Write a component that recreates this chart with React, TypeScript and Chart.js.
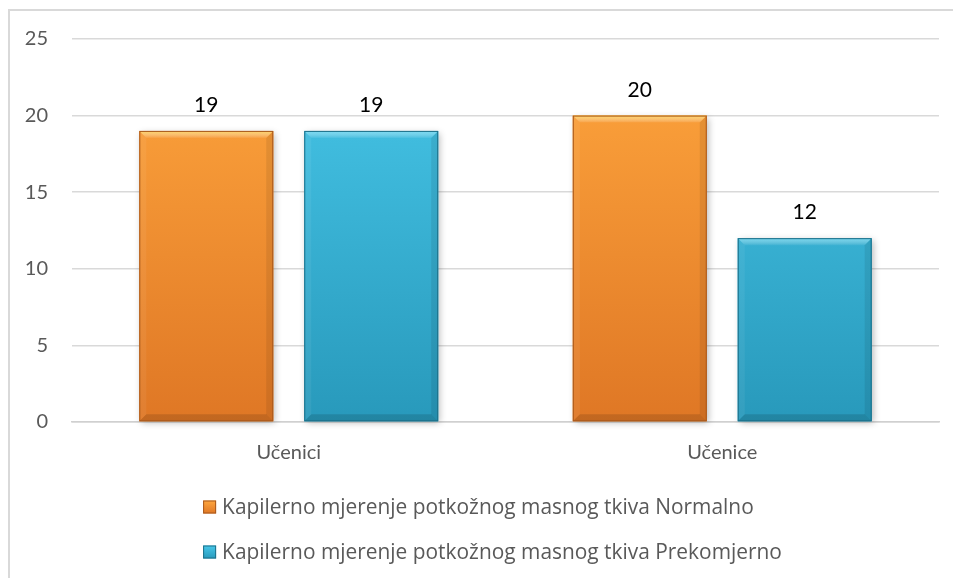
import React, { useEffect, useRef } from "react";
import { Chart, registerables } from "chart.js";

Chart.register(...registerables);

const categories = ["Učenici", "Učenice"];
const normalnoValues = [19, 20];
const prekomjernoValues = [19, 12];
const seriesLabels = [
  "Kapilerno mjerenje potkožnog masnog tkiva Normalno",
  "Kapilerno mjerenje potkožnog masnog tkiva Prekomjerno",
];
const yMax = 25;
const yStep = 5;

const FONT = "Lato, 'Open Sans', sans-serif";
const LEGEND_FONT = "'Open Sans', Lato, sans-serif";

const palette = [
  { top: "#ffa73e", bottom: "#df7725", light: "rgba(255,228,110,0.8)", dark: "#a8581c", solid: "#f7922c" },
  { top: "#48c8ea", bottom: "#2899bb", light: "rgba(150,235,255,0.65)", dark: "#1d6f88", solid: "#35b6da" },
];

function gradientFor(idx: number) {
  return (ctx: any) => {
    const chart = ctx.chart;
    const area = chart.chartArea;
    const p = palette[idx];
    if (!area) return p.solid;
    const g = chart.ctx.createLinearGradient(0, area.top, 0, area.bottom);
    g.addColorStop(0, p.top);
    g.addColorStop(1, p.bottom);
    return g;
  };
}

const bevelPlugin = {
  id: "bevel",
  beforeDatasetsDraw(chart: any) {
    const ctx = chart.ctx;
    chart.data.datasets.forEach((ds: any, di: number) => {
      const meta = chart.getDatasetMeta(di);
      meta.data.forEach((el: any) => {
        const { x, y, base, width } = el.getProps(["x", "y", "base", "width"], true);
        ctx.save();
        ctx.shadowColor = "rgba(0,0,0,0.28)";
        ctx.shadowBlur = 7;
        ctx.shadowOffsetX = 2;
        ctx.shadowOffsetY = 2;
        ctx.fillStyle = palette[di].solid;
        ctx.fillRect(x - width / 2, y, width, base - y);
        ctx.restore();
      });
    });
  },
  afterDatasetsDraw(chart: any) {
    const ctx = chart.ctx;
    chart.data.datasets.forEach((ds: any, di: number) => {
      const meta = chart.getDatasetMeta(di);
      const p = palette[di];
      meta.data.forEach((el: any, i: number) => {
        const { x, y, base, width } = el.getProps(["x", "y", "base", "width"], true);
        const l = x - width / 2;
        const r = x + width / 2;
        const t = y;
        const b = base;
        const bv = 7;
        ctx.save();
        const tg = ctx.createLinearGradient(0, t, 0, t + bv);
        tg.addColorStop(0, p.light);
        tg.addColorStop(1, "rgba(255,255,255,0.05)");
        ctx.fillStyle = tg;
        ctx.beginPath();
        ctx.moveTo(l, t);
        ctx.lineTo(r, t);
        ctx.lineTo(r - bv, t + bv);
        ctx.lineTo(l + bv, t + bv);
        ctx.closePath();
        ctx.fill();
        ctx.fillStyle = "rgba(0,0,0,0.13)";
        ctx.beginPath();
        ctx.moveTo(l, b);
        ctx.lineTo(r, b);
        ctx.lineTo(r - bv, b - bv);
        ctx.lineTo(l + bv, b - bv);
        ctx.closePath();
        ctx.fill();
        ctx.fillStyle = "rgba(0,0,0,0.08)";
        ctx.beginPath();
        ctx.moveTo(r, t);
        ctx.lineTo(r, b);
        ctx.lineTo(r - bv, b - bv);
        ctx.lineTo(r - bv, t + bv);
        ctx.closePath();
        ctx.fill();
        ctx.fillStyle = "rgba(255,255,255,0.06)";
        ctx.beginPath();
        ctx.moveTo(l, t);
        ctx.lineTo(l, b);
        ctx.lineTo(l + bv, b - bv);
        ctx.lineTo(l + bv, t + bv);
        ctx.closePath();
        ctx.fill();
        ctx.strokeStyle = p.dark;
        ctx.lineWidth = 1;
        ctx.strokeRect(l + 0.5, t + 0.5, width - 1, b - t - 1);
        ctx.fillStyle = "#000000";
        ctx.font = `21px ${FONT}`;
        ctx.textAlign = "center";
        ctx.textBaseline = "alphabetic";
        ctx.fillText(String(ds.data[i]), x, t - 19);
        ctx.restore();
      });
    });
  },
  afterDraw(chart: any) {
    const ctx = chart.ctx;
    const area = chart.chartArea;
    ctx.save();
    ctx.font = `20.9px ${LEGEND_FONT}`;
    const box = 13;
    const gap = 6;
    const widths = chart.data.datasets.map((d: any) => ctx.measureText(d.label).width);
    const maxW = Math.max(...widths) + box + gap;
    const left = chart.width / 2 - maxW / 2;
    const firstRow = area.bottom + 85;
    const rowGap = 45;
    chart.data.datasets.forEach((d: any, di: number) => {
      const cy = firstRow + di * rowGap;
      const p = palette[di];
      const g = ctx.createLinearGradient(0, cy - box / 2, 0, cy + box / 2);
      g.addColorStop(0, p.top);
      g.addColorStop(1, p.bottom);
      ctx.fillStyle = g;
      ctx.fillRect(left, cy - box / 2, box, box);
      ctx.strokeStyle = p.dark;
      ctx.lineWidth = 1;
      ctx.strokeRect(left + 0.5, cy - box / 2 + 0.5, box - 1, box - 1);
      ctx.fillStyle = "#595959";
      ctx.textAlign = "left";
      ctx.textBaseline = "middle";
      ctx.fillText(d.label, left + box + gap, cy + 1);
    });
    ctx.restore();
  },
};

export default function App() {
  const ref = useRef<HTMLCanvasElement | null>(null);

  useEffect(() => {
    if (!ref.current) return;
    const chart = new Chart(ref.current, {
      type: "bar",
      data: {
        labels: categories,
        datasets: [
          {
            label: seriesLabels[0],
            data: normalnoValues,
            backgroundColor: gradientFor(0),
            borderWidth: 0,
            categoryPercentage: 0.761,
            barPercentage: 0.812,
          },
          {
            label: seriesLabels[1],
            data: prekomjernoValues,
            backgroundColor: gradientFor(1),
            borderWidth: 0,
            categoryPercentage: 0.761,
            barPercentage: 0.812,
          },
        ],
      },
      options: {
        animation: false,
        responsive: false,
        maintainAspectRatio: false,
        layout: { padding: { top: 39, right: 46, bottom: 96, left: 0 } },
        plugins: {
          legend: { display: false },
          tooltip: { enabled: false },
        },
        scales: {
          x: {
            grid: { display: false, drawTicks: false },
            border: { display: true, color: "#d0d0d0", width: 1.5 },
            ticks: { color: "#595959", font: { family: FONT, size: 20 }, padding: 19 },
            afterFit(scale: any) {
              scale.height = 60;
            },
          },
          y: {
            min: 0,
            max: yMax,
            ticks: { stepSize: yStep, color: "#595959", font: { family: FONT, size: 20 }, padding: 24 },
            grid: { color: "#d9d9d9", lineWidth: 1.5, drawTicks: false },
            border: { display: false },
            afterFit(scale: any) {
              scale.width = 72;
            },
          },
        },
      },
      plugins: [bevelPlugin],
    });
    return () => chart.destroy();
  }, []);

  return (
    <div style={{ position: "fixed", left: 0, top: 0, width: 953, height: 578, overflow: "hidden", background: "#fff" }}>
      <div
        style={{
          position: "absolute",
          left: 8,
          top: 9,
          width: 1000,
          height: 1000,
          border: "2px solid #d9d9d9",
          boxSizing: "border-box",
        }}
      />
      <canvas ref={ref} width={985} height={578} style={{ position: "absolute", left: 0, top: 0 }} />
    </div>
  );
}
